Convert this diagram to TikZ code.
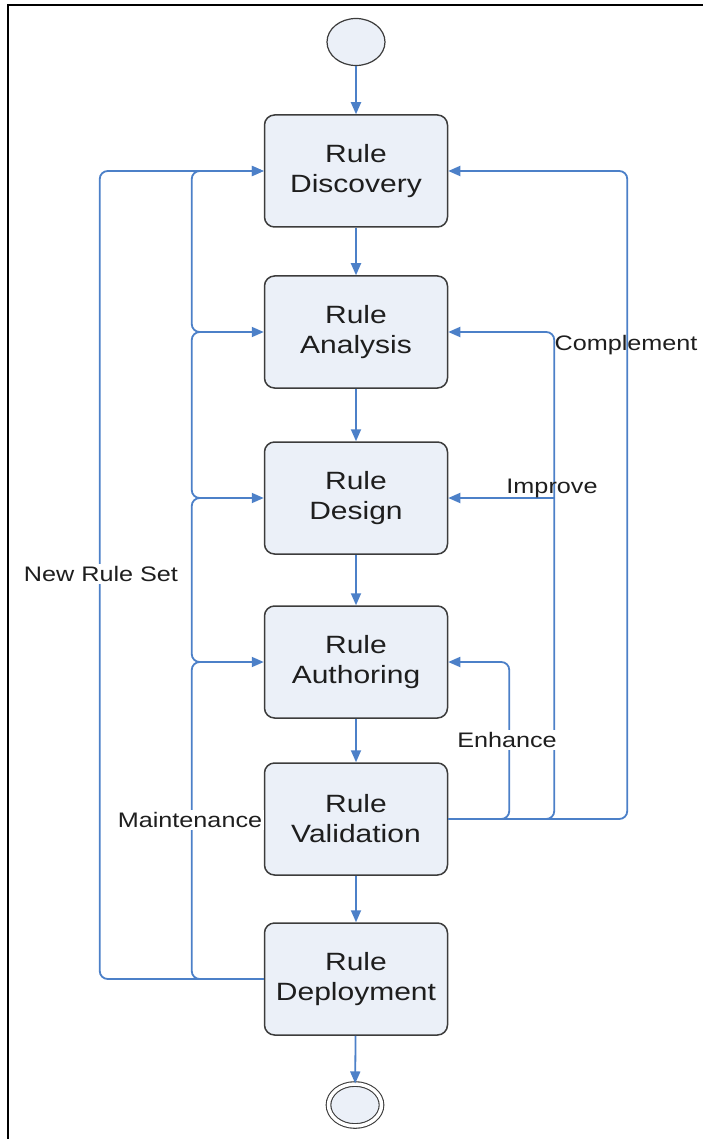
\documentclass[tikz,border=0pt]{standalone}
\usepackage{fontspec}
\setmainfont{Liberation Sans}[FakeStretch=1.2]
\usepackage{tikz}
\usetikzlibrary{shapes,arrows.meta,positioning,calc}
\usepackage{xcolor}
\definecolor{flowblue}{RGB}{76,128,200}
\definecolor{boxfill}{RGB}{235,240,248}
\definecolor{boxline}{RGB}{60,60,60}
\definecolor{txtdark}{RGB}{30,30,30}

\begin{document}
\begin{tikzpicture}[x=1pt, y=-1pt,
    box/.style={rectangle, rounded corners=10pt, draw=boxline, line width=1.5pt, fill=boxfill, minimum width=183pt, minimum height=112pt, align=center, text=txtdark, font=\fontsize{25}{30}\selectfont},
    state/.style={ellipse, draw=boxline, line width=1.2pt, fill=boxfill, minimum width=58pt, minimum height=47pt, inner sep=0pt},
    final/.style={ellipse, draw=boxline, line width=1.1pt, double, double distance=3.5pt, fill=boxfill, minimum width=53pt, minimum height=42pt, inner sep=0pt},
    arrow/.style={-{Triangle[length=12pt,width=10pt]}, line width=1.8pt, draw=flowblue, rounded corners=8pt},
    lbl/.style={text=txtdark, inner sep=2pt, font=\fontsize{21}{25}\selectfont}
]
\useasboundingbox (0,0) rectangle (703,1139);
\draw[line width=1.5pt] (703,5) -- (8,5) -- (8,1139);

\node[state] (start) at (356,42) {};
\node[box] (disc) at (356,171) {Rule\\Discovery};
\node[box] (ana) at (356,332) {Rule\\Analysis};
\node[box] (des) at (356,498) {Rule\\Design};
\node[box] (auth) at (356,662) {Rule\\Authoring};
\node[box] (val) at (356,819) {Rule\\Validation};
\node[box] (dep) at (356,979) {Rule\\Deployment};
\node[final] (end) at (355,1105) {};

\draw[arrow] (start) -- (disc);
\draw[arrow] (disc) -- (ana);
\draw[arrow] (ana) -- (des);
\draw[arrow] (des) -- (auth);
\draw[arrow] (auth) -- (val);
\draw[arrow] (val) -- (dep);
\draw[arrow] (dep) -- (end);

% back from deployment
\draw[arrow] (dep.west) -- +(-164,0) |- (disc.west);
\draw[arrow] (dep.west) -- +(-72,0) |- (auth.west);
\draw[arrow] ([xshift=-40pt]auth.west) -- +(-32,0) |- (des.west);
\draw[arrow] ([xshift=-40pt]des.west) -- +(-32,0) |- (ana.west);
\draw[arrow] ([xshift=-40pt]ana.west) -- +(-32,0) |- (disc.west);

% back from validation
\draw[arrow] (val.east) -- +(61,0) |- (auth.east);
\draw[arrow] (val.east) -- +(106,0) coordinate (impr) |- (ana.east);
\draw[arrow] (impr |- des.east) -- (des.east);
\draw[arrow] (val.east) -- +(179,0) |- (disc.east);

\node[lbl, fill=white] (newset) at (101,574) {New Rule Set};
\node[lbl, fill=white] (maint) at (190,820) {Maintenance};
\node[lbl, fill=white] (enh) at (507,740) {Enhance};
\node[lbl] (imp) at (552,488) {Improve};
\node[lbl] (comp) at (626,345) {Complement};
\end{tikzpicture}
\end{document}
